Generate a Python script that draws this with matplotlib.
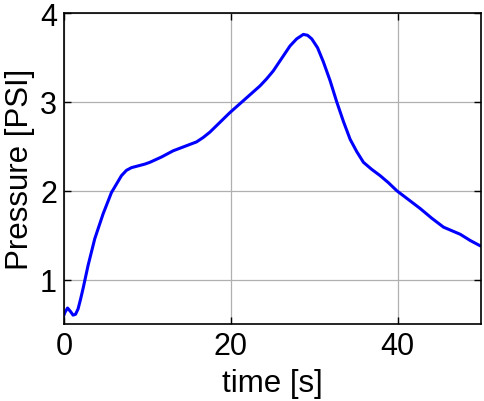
import matplotlib.pyplot as plt

# values
time_s = [0.0, 0.12, 0.44, 0.8, 1.1, 1.4, 1.7, 2.0, 2.3, 2.9, 3.7, 4.7, 5.7,
          6.9, 7.5, 8.1, 8.9, 9.7, 10.3, 11.7, 13.1, 14.5, 15.9, 16.7, 17.5,
          18.7, 19.9, 21.1, 22.3, 23.5, 24.3, 25.1, 26.1, 27.1, 27.9, 28.7,
          29.2, 29.7, 30.4, 31.1, 31.9, 32.7, 33.5, 34.3, 35.1, 35.9, 36.9,
          37.9, 38.9, 39.9, 41.3, 42.7, 44.1, 45.5, 46.5, 47.5, 48.7, 49.9, 50.0]
pressure = [0.60, 0.63, 0.68, 0.64, 0.60, 0.61, 0.67, 0.78, 0.90, 1.16, 1.46,
            1.74, 1.98, 2.17, 2.23, 2.26, 2.28, 2.30, 2.32, 2.38, 2.45, 2.50,
            2.55, 2.60, 2.66, 2.77, 2.88, 2.98, 3.08, 3.18, 3.26, 3.35, 3.49,
            3.63, 3.71, 3.76, 3.75, 3.71, 3.61, 3.45, 3.24, 3.00, 2.78, 2.58,
            2.44, 2.32, 2.24, 2.17, 2.09, 2.00, 1.90, 1.80, 1.69, 1.59, 1.55,
            1.51, 1.44, 1.38, 1.38]

x_ticks = [0, 20, 40]
y_ticks = [1, 2, 3, 4]

plt.rcParams['font.family'] = ['Liberation Sans', 'DejaVu Sans']

fig = plt.figure(figsize=(4.84, 4.02), dpi=100)
ax = fig.add_axes([0.132, 0.1915, 0.862, 0.7735])
ax.plot(time_s, pressure, color='#0000ff', linewidth=2.2)

ax.set_xlim(0, 50)
ax.set_ylim(0.5, 4)
ax.set_xticks(x_ticks)
ax.set_yticks(y_ticks)
ax.grid(True, color='#b0b0b0', linewidth=0.9)
ax.tick_params(direction='in', top=True, right=True, labelsize=22,
               length=5, width=1)
ax.tick_params(axis='x', pad=5)
ax.tick_params(axis='y', pad=5)
for sp in ax.spines.values():
    sp.set_linewidth(1.2)

ax.set_xlabel('time [s]', fontsize=22.5, labelpad=5)
ax.set_ylabel('Pressure [PSI]', fontsize=22.5)
ax.yaxis.set_label_coords(-0.069, 0.5)

fig.savefig('out.png', dpi=100)
